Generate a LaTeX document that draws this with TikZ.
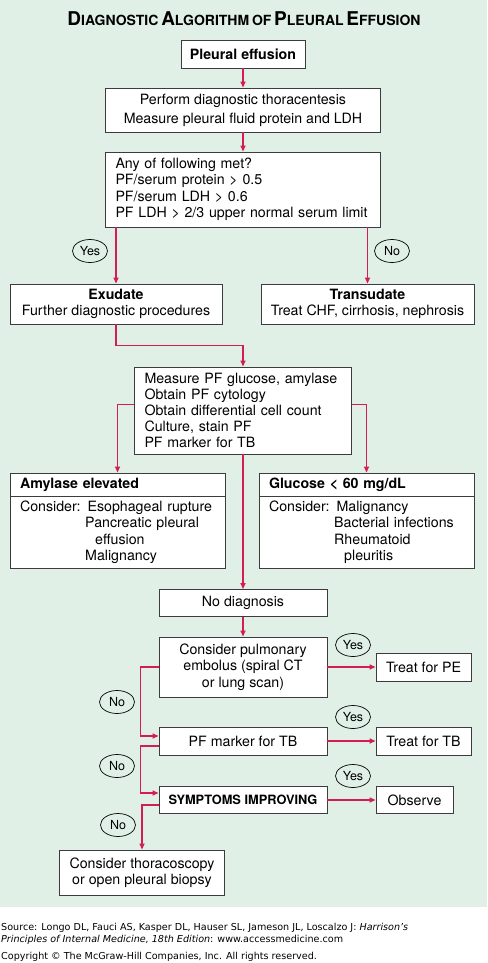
\documentclass[tikz,border=0pt]{standalone}
\usepackage{fontspec}
\setmainfont{TeX Gyre Heros}
\newfontfamily\srcfont{DejaVu Sans}
\usetikzlibrary{shapes.geometric,arrows.meta}
\definecolor{bggreen}{HTML}{E1F0E6}
\definecolor{flowred}{HTML}{D41E52}
\definecolor{boxline}{HTML}{3C3C3C}
\newcommand\capword[2]{{\fontsize{19}{22}\selectfont #1}{\fontsize{14}{22}\selectfont #2}}
\newcommand\hangcon{\phantom{Consider:\ }}
\tikzset{
 box/.style={draw=boxline,fill=white,line width=0.9pt,inner sep=0pt,font=\fontsize{14.2}{16.5}\selectfont,align=center},
 lbox/.style={box,align=left,inner xsep=10pt,text width=#1},
 flow/.style={draw=flowred,line width=1.6pt,-{Triangle[length=6pt,width=5pt]}},
 yesno/.style={ellipse,draw=black,line width=0.7pt,minimum width=35pt,minimum height=23pt,inner sep=0pt,font=\fontsize{12.5}{14}\selectfont}
}
\begin{document}
\begin{tikzpicture}[x=1pt,y=-1pt]
 \useasboundingbox (0,0) rectangle (487,963);
 \fill[bggreen] (0,0) rectangle (487,907);
 \node (title) at (244,19) {\bfseries\capword{D}{IAGNOSTIC} \capword{A}{LGORITHM} {\fontsize{14}{22}\selectfont OF} \capword{P}{LEURAL} \capword{E}{FFUSION}};
 % main column
 \node[box,minimum width=124pt,minimum height=28pt] (pe) at (243,54) {\bfseries Pleural effusion};
 \node[box,minimum width=275pt,minimum height=44pt,font=\fontsize{14.2}{19}\selectfont] (perform) at (243,110) {Perform diagnostic thoracentesis\\Measure pleural fluid protein and LDH};
 \node[lbox=255pt,minimum height=75pt] (anyof) at (243,189.5) {Any of following met?\\PF/serum protein > 0.5\\PF/serum LDH > 0.6\\PF LDH > 2/3 upper normal serum limit};
 \node[box,minimum width=212pt,minimum height=40pt,font=\fontsize{14.2}{16}\selectfont] (exu) at (116,304) {\bfseries Exudate\\Further diagnostic procedures};
 \node[box,minimum width=213pt,minimum height=40pt,font=\fontsize{14.2}{16}\selectfont] (tra) at (367.5,304) {\bfseries Transudate\\Treat CHF, cirrhosis, nephrosis};
 \node[lbox=197pt,minimum height=87pt,font=\fontsize{14.2}{16}\selectfont] (measure) at (243,410.5) {Measure PF glucose, amylase\\Obtain PF cytology\\Obtain differential cell count\\Culture, stain PF\\PF marker for TB};
 % side boxes
 \node[lbox=195pt,minimum height=23pt] (amyhead) at (117.5,484.5) {\bfseries Amylase elevated};
 \node[lbox=195pt,minimum height=72pt] (amybody) at (117.5,532) {Consider: Esophageal rupture\\\hangcon Pancreatic pleural\\\hangcon\hspace*{10pt}effusion\\\hangcon Malignancy};
 \node[lbox=195pt,minimum height=23pt] (gluhead) at (366.5,484.5) {\bfseries Glucose < 60 mg/dL};
 \node[lbox=195pt,minimum height=72pt] (glubody) at (366.5,532) {Consider: Malignancy\\\hangcon Bacterial infections\\\hangcon Rheumatoid\\\hangcon\hspace*{10pt}pleuritis};
 % lower part
 \node[box,minimum width=168pt,minimum height=27pt] (nodiag) at (243,603) {No diagnosis};
 \node[box,minimum width=168pt,minimum height=60pt] (pulm) at (243,667) {Consider pulmonary\\embolus (spiral CT\\or lung scan)};
 \node[box,minimum width=95pt,minimum height=28pt] (tpe) at (423.5,667) {Treat for PE};
 \node[box,minimum width=168pt,minimum height=28pt] (pfm) at (243,741) {PF marker for TB};
 \node[box,minimum width=95pt,minimum height=28pt] (ttb) at (423.5,741) {Treat for TB};
 \node[box,minimum width=168pt,minimum height=27pt] (symp) at (243,800) {\bfseries\fontsize{12.8}{14}\selectfont SYMPTOMS IMPROVING};
 \node[box,minimum width=77pt,minimum height=27pt] (obs) at (414.5,800) {Observe};
 \node[box,minimum width=165pt,minimum height=45pt] (thor) at (142,872.5) {Consider thoracoscopy\\or open pleural biopsy};
 % yes / no labels
 \node[yesno] (yes1) at (90,251) {Yes};
 \node[yesno] (no1) at (392,251) {No};
 \node[yesno] (yes2) at (353,645) {Yes};
 \node[yesno] (no2) at (117,702) {No};
 \node[yesno] (yes3) at (353,717) {Yes};
 \node[yesno] (no3) at (117,766) {No};
 \node[yesno] (yes4) at (353,776) {Yes};
 \node[yesno] (no4) at (118,825) {No};
 % connectors
 \draw[flow] (pe) -- (perform);
 \draw[flow] (perform) -- (anyof);
 \draw[flow] (anyof.south -| exu.north) -- (exu.north);
 \draw[flow] (anyof.south -| tra.north) -- (tra.north);
 \draw[flow] (exu.south) -- ++(0,21) -| (measure.north);
 \draw[flow] ([yshift=6pt]measure.west) -| (amyhead.north);
 \draw[flow] ([yshift=6pt]measure.east) -| (gluhead.north);
 \draw[flow] (measure) -- (nodiag);
 \draw[flow] (nodiag) -- (pulm);
 \draw[flow] (pulm) -- (tpe);
 \draw[flow] (pfm) -- (ttb);
 \draw[flow] (symp) -- (obs);
 \draw[flow] (pulm.west) -- ++(-18,0) |- ([yshift=5pt]pfm.west);
 \draw[flow] ([yshift=-5pt]pfm.west) -- ++(-18,0) |- ([yshift=7pt]symp.west);
 \draw[flow] ([yshift=-5pt]symp.west) -| (thor.north);
 % source
 \node[anchor=west,inner sep=0pt,font=\srcfont\fontsize{9.6}{12}\selectfont] (src1) at (1,928) {Source: Longo DL, Fauci AS, Kasper DL, Hauser SL, Jameson JL, Loscalzo J: \textit{Harrison’s}};
 \node[anchor=west,inner sep=0pt,font=\srcfont\fontsize{9.6}{12}\selectfont] (src2) at (1,940) {\textit{Principles of Internal Medicine, 18th Edition}: www.accessmedicine.com};
 \node[anchor=west,inner sep=0pt,font=\srcfont\fontsize{9.6}{12}\selectfont] (copy) at (1,957) {Copyright © The McGraw-Hill Companies, Inc. All rights reserved.};
\end{tikzpicture}
\end{document}
